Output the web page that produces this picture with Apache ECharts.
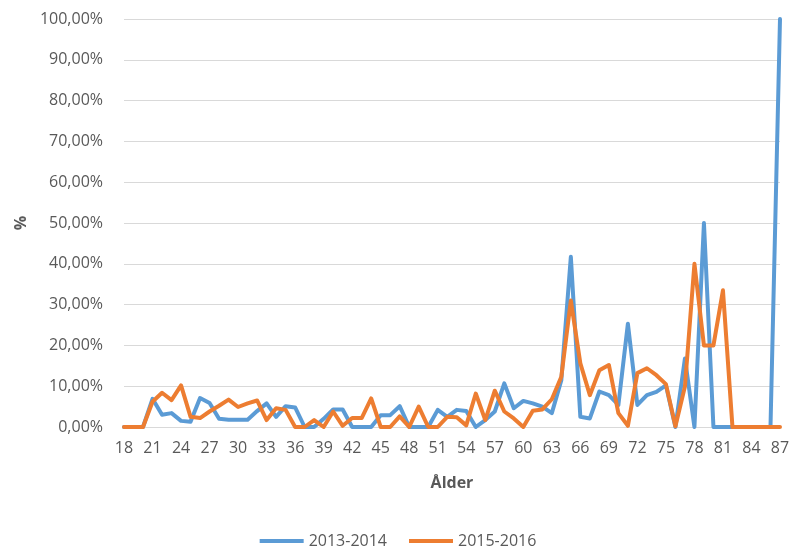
<!DOCTYPE html>
<html>
<head>
<meta charset="utf-8">
<script src="https://cdn.jsdelivr.net/npm/echarts@6/dist/echarts.min.js"></script>
<style>
html,body{margin:0;padding:0;background:#fff;}
#c{width:796px;height:548px;}
</style>
</head>
<body>
<div id="c"></div>
<script>
var ages = [];
for (var a = 18; a <= 87; a++) ages.push(String(a));

var seriesNames = ['2013-2014', '2015-2016'];

// values in percent, ages 18..87
var s2013 = [
  0, 0, 0, 6.9, 3.0, 3.4, 1.5, 1.3, 7.1, 5.9,
  2.0, 1.8, 1.8, 1.8, 3.9, 5.8, 2.5, 5.1, 4.8, 0,
  0, 2.0, 4.3, 4.3, 0, 0, 0, 2.9, 2.9, 5.1,
  0, 0, 0, 4.2, 2.5, 4.2, 3.9, 0, 1.7, 3.8,
  10.7, 4.6, 6.4, 5.8, 5.0, 3.4, 11.5, 41.7, 2.5, 2.1,
  8.7, 7.8, 5.4, 25.3, 5.4, 7.8, 8.6, 10.2, 0, 16.8,
  0, 50, 0, 0, 0, 0, 0, 0, 0, 100
];
var s2015 = [
  0, 0, 0, 6.2, 8.4, 6.6, 10.2, 2.5, 2.2, 3.8,
  5.2, 6.7, 4.9, 5.8, 6.5, 1.7, 4.6, 4.2, 0, 0,
  1.7, 0, 3.8, 0.3, 2.2, 2.2, 7.0, 0, 0, 2.6,
  0, 5.0, 0, 0, 2.5, 2.4, 0.4, 8.2, 1.7, 8.9,
  3.8, 2.1, 0, 4.0, 4.3, 6.8, 12.3, 31, 15.6, 7.8,
  13.9, 15.2, 3.4, 0.3, 13.2, 14.4, 12.7, 10.5, 0.2, 9.9,
  40, 20, 20, 33.5, 0, 0, 0, 0, 0, 0
];

var chart = echarts.init(document.getElementById('c'), null, {renderer: 'canvas'});
var FONT = 'Open Sans';
chart.setOption({
  animation: false,
  backgroundColor: '#ffffff',
  color: ['#5B9BD5', '#ED7D31'],
  grid: {left: 124, right: 16, top: 19, bottom: 121, containLabel: false},
  legend: {
    top: 528,
    left: 'center',
    data: seriesNames,
    icon: 'rect',
    itemWidth: 44,
    itemHeight: 4,
    itemGap: 22,
    textStyle: {color: '#595959', fontSize: 16, fontFamily: FONT}
  },
  xAxis: {
    type: 'category',
    data: ages,
    boundaryGap: false,
    name: 'Ålder',
    nameLocation: 'middle',
    nameGap: 48,
    nameTextStyle: {color: '#595959', fontSize: 16, fontWeight: 'bold', fontFamily: FONT},
    axisLine: {lineStyle: {color: '#D9D9D9', width: 1}},
    axisTick: {show: false},
    axisLabel: {interval: 2, color: '#595959', fontSize: 16, fontFamily: FONT, margin: 13}
  },
  yAxis: {
    type: 'value',
    min: 0,
    max: 100,
    interval: 10,
    name: '%',
    nameLocation: 'middle',
    nameGap: 95,
    nameTextStyle: {color: '#595959', fontSize: 16, fontWeight: 'bold', fontFamily: FONT},
    axisLine: {show: false},
    axisTick: {show: false},
    splitLine: {lineStyle: {color: '#D9D9D9', width: 1}},
    axisLabel: {
      color: '#595959', fontSize: 16, fontFamily: FONT, margin: 21,
      formatter: function (v) { return v.toFixed(2).replace('.', ',') + '%'; }
    }
  },
  series: [
    {name: seriesNames[0], type: 'line', data: s2013, symbol: 'none', smooth: false,
     lineStyle: {width: 4, cap: 'round', join: 'round'}},
    {name: seriesNames[1], type: 'line', data: s2015, symbol: 'none', smooth: false,
     lineStyle: {width: 4, cap: 'round', join: 'round'}}
  ]
});
</script>
</body>
</html>
